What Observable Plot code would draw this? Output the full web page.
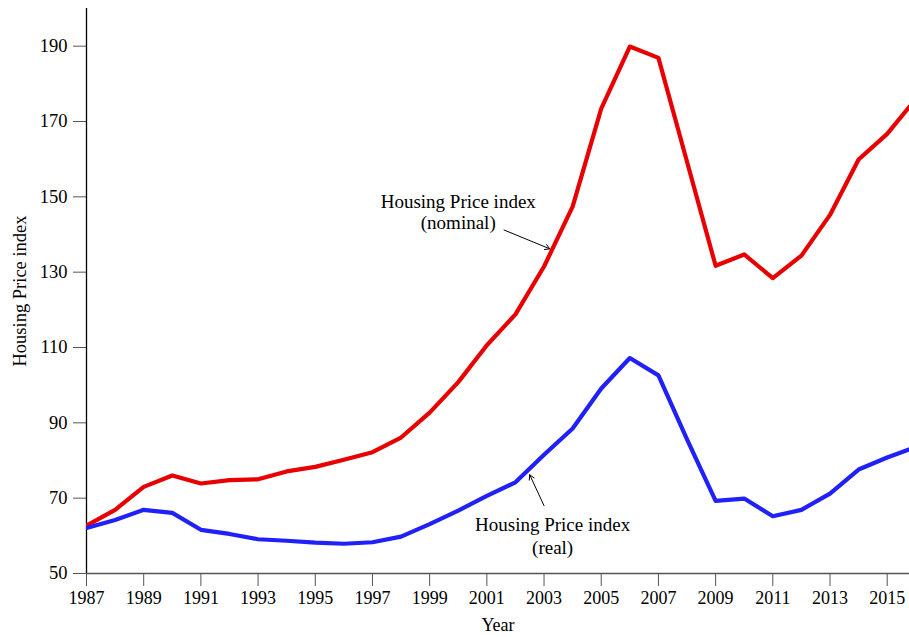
<!DOCTYPE html>
<html>
<head>
<meta charset="utf-8">
<script src="https://cdn.jsdelivr.net/npm/d3@7"></script>
<script src="https://cdn.jsdelivr.net/npm/@observablehq/plot@0.6"></script>
<style>
  html, body { margin: 0; padding: 0; background: #fff; }
  svg { display: block; }
</style>
</head>
<body>
<div id="chart"></div>
<script>
const years = [1987,1988,1989,1990,1991,1992,1993,1994,1995,1996,1997,1998,1999,2000,2001,2002,2003,2004,2005,2006,2007,2008,2009,2010,2011,2012,2013,2014,2015,2016];
const nominal = [62.7,66.9,73.0,76.0,73.9,74.8,75.0,77.1,78.3,80.2,82.2,86.1,92.7,100.8,110.6,118.8,131.5,147.4,173.4,189.9,186.9,159.3,131.7,134.7,128.4,134.4,145.2,159.9,166.7,176.0];
const real = [62.1,64.2,66.9,66.1,61.6,60.5,59.1,58.7,58.2,57.9,58.3,59.8,63.1,66.7,70.6,74.2,81.5,88.5,99.1,107.2,102.6,85.6,69.3,69.9,65.2,66.9,71.2,77.6,80.8,83.6];
const xTicks = [1987,1989,1991,1993,1995,1997,1999,2001,2003,2005,2007,2009,2011,2013,2015];
const yTicks = [50,70,90,110,130,150,170,190];

const labels = [
  {x: 2000.0, y: 148.6, text: "Housing Price index"},
  {x: 2000.0, y: 143.0, text: "(nominal)"},
  {x: 2003.3, y: 62.9, text: "Housing Price index"},
  {x: 2003.3, y: 56.8, text: "(real)"}
];
const arrows = [
  {x1: 2001.6, y1: 141.2, x2: 2003.2, y2: 136.2},
  {x1: 2003.0, y1: 68.0, x2: 2002.5, y2: 76.2}
];

const nomData = years.map((y, i) => ({year: y, value: nominal[i]}));
const realData = years.map((y, i) => ({year: y, value: real[i]}));

const font = "'Liberation Serif', 'DejaVu Serif', serif";

const plot = Plot.plot({
  width: 909,
  height: 637,
  marginLeft: 86,
  marginRight: 0,
  marginTop: 8,
  marginBottom: 64,
  style: {fontFamily: font, fontSize: "18px", background: "#fff", color: "#000"},
  x: {domain: [1987, 2015.78]},
  y: {domain: [50, 200]},
  marks: [
    Plot.axisX({ticks: xTicks, tickFormat: d => String(d), tickSize: 13, tickPadding: 5, stroke: "#555", label: "Year", labelAnchor: "center", labelArrow: "none", labelOffset: 57, fontSize: 18}),
    Plot.axisY({ticks: yTicks, tickSize: 13, tickPadding: 6, stroke: "#555", label: "Housing Price index", labelAnchor: "center", labelArrow: "none", labelOffset: 74, fontSize: 18.5}),
    Plot.ruleX([1987], {stroke: "#000", strokeWidth: 1.3}),
    Plot.ruleY([50], {stroke: "#555", strokeWidth: 1.3}),
    Plot.line(nomData, {x: "year", y: "value", stroke: "#e80000", strokeWidth: 4.2, clip: true}),
    Plot.line(realData, {x: "year", y: "value", stroke: "#2020f8", strokeWidth: 4.2, clip: true}),
    Plot.arrow(arrows, {x1: "x1", y1: "y1", x2: "x2", y2: "y2", stroke: "#000", strokeWidth: 1, headLength: 8}),
    Plot.text(labels, {x: "x", y: "y", text: "text", fontSize: 19, fill: "#000"})
  ]
});
document.getElementById("chart").appendChild(plot);
</script>
</body>
</html>
